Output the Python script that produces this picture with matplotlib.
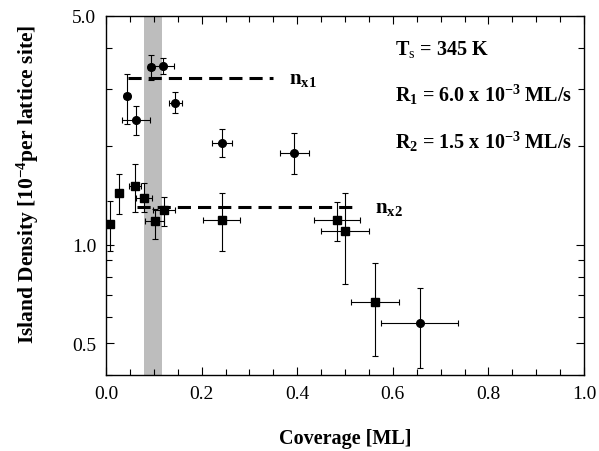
import numpy as np
import matplotlib
matplotlib.use("Agg")
import matplotlib.pyplot as plt
from matplotlib.ticker import FixedLocator, NullFormatter

# ─── data ────────────────────────────────────────────────────────────────────
# circles (R1)
circ_x    = [0.044, 0.063, 0.094, 0.119, 0.145, 0.243, 0.394, 0.656]
circ_y    = [2.85, 2.40, 3.48, 3.52, 2.72, 2.05, 1.91, 0.578]
circ_ylo  = [2.34, 2.16, 3.19, 3.33, 2.53, 1.85, 1.64, 0.419]
circ_yhi  = [3.33, 2.65, 3.79, 3.72, 2.93, 2.25, 2.19, 0.738]
circ_xerr = [0.006, 0.030, 0.006, 0.023, 0.014, 0.021, 0.031, 0.080]

# squares (R2)
sq_x    = [0.008, 0.028, 0.061, 0.080, 0.102, 0.121, 0.242, 0.483, 0.500, 0.563]
sq_y    = [1.16, 1.44, 1.51, 1.39, 1.18, 1.28, 1.19, 1.19, 1.10, 0.667]
sq_ylo  = [0.96, 1.24, 1.26, 1.26, 1.04, 1.14, 0.96, 1.03, 0.76, 0.458]
sq_yhi  = [1.36, 1.64, 1.76, 1.54, 1.29, 1.40, 1.44, 1.35, 1.44, 0.878]
sq_xerr = [0.004, 0.004, 0.012, 0.017, 0.020, 0.023, 0.039, 0.048, 0.051, 0.050]

# saturation densities (dashed lines)
nx1, nx1_span = 3.24, (0.047, 0.35)
nx2, nx2_span = 1.30, (0.064, 0.52)

# shaded coverage band
band = (0.080, 0.118)

yticks      = [0.5, 1.0, 5.0]
ytick_lbls  = ["0.5", "1.0", "5.0"]
yminor      = [0.4, 0.6, 0.7, 0.8, 0.9, 2.0, 3.0, 4.0]
xticks      = [0.0, 0.2, 0.4, 0.6, 0.8, 1.0]
xtick_lbls  = ["0.0", "0.2", "0.4", "0.6", "0.8", "1.0"]

# ─── style ───────────────────────────────────────────────────────────────────
plt.rcParams["font.family"] = ["Liberation Serif", "DejaVu Serif"]
plt.rcParams["mathtext.fontset"] = "custom"
plt.rcParams["mathtext.rm"] = "Liberation Serif"
plt.rcParams["mathtext.bf"] = "Liberation Serif:bold"
plt.rcParams["mathtext.default"] = "bf"

fig = plt.figure(figsize=(5.99, 4.52), dpi=100)
ax = fig.add_axes([0.177, 0.168, 0.798, 0.7945])

ax.axvspan(band[0], band[1], color="#bdbdbd", lw=0, zorder=0)

eb_kw = dict(fmt="none", ecolor="black", elinewidth=0.8, capsize=2.3,
             capthick=0.8, zorder=2)
c_yerr = [np.subtract(circ_y, circ_ylo), np.subtract(circ_yhi, circ_y)]
s_yerr = [np.subtract(sq_y, sq_ylo), np.subtract(sq_yhi, sq_y)]
ax.errorbar(circ_x, circ_y, xerr=circ_xerr, yerr=c_yerr, **eb_kw)
ax.errorbar(sq_x, sq_y, xerr=sq_xerr, yerr=s_yerr, **eb_kw)
ax.plot(circ_x, circ_y, "o", color="black", ms=5.5, zorder=3)
ax.plot(sq_x, sq_y, "s", color="black", ms=6.2, zorder=3)

ax.plot(nx1_span, [nx1, nx1], color="black", lw=2.2, dashes=(4.3, 2.3), zorder=4)
ax.plot(nx2_span, [nx2, nx2], color="black", lw=2.2, dashes=(4.3, 2.3), zorder=4)
ax.text(0.383, nx1, r"n$_{x1}$", fontsize=15, fontweight="bold", va="center")
ax.text(0.563, nx2, r"n$_{x2}$", fontsize=15, fontweight="bold", va="center")

tx = 0.605
ax.text(tx, 0.894, r"T$_\mathrm{s}$ = 345 K", transform=ax.transAxes,
        fontsize=14.5, fontweight="bold", va="baseline")
ax.text(tx, 0.764, r"R$_1$ = 6.0 x 10$^{-3}$ ML/s", transform=ax.transAxes,
        fontsize=14.5, fontweight="bold", va="baseline")
ax.text(tx, 0.634, r"R$_2$ = 1.5 x 10$^{-3}$ ML/s", transform=ax.transAxes,
        fontsize=14.5, fontweight="bold", va="baseline")

# ─── axes ────────────────────────────────────────────────────────────────────
ax.set_yscale("log")
ax.set_xlim(0, 1.0)
ax.set_ylim(0.4, 5.0)
ax.set_yticks(yticks)
ax.set_yticklabels(ytick_lbls)
ax.yaxis.set_minor_locator(FixedLocator(yminor))
ax.yaxis.set_minor_formatter(NullFormatter())
ax.set_xticks(xticks)
ax.set_xticklabels(xtick_lbls)
ax.xaxis.set_minor_locator(FixedLocator(np.arange(0, 1.0001, 0.05)))

ax.tick_params(which="both", direction="in", top=True, right=True,
               labelsize=14, width=0.8, pad=7)
ax.tick_params(which="major", length=6)
ax.tick_params(which="minor", length=4)
for s in ax.spines.values():
    s.set_linewidth(1.0)

ax.set_xlabel("Coverage [ML]", fontsize=14.5, fontweight="bold", labelpad=19)
ax.set_ylabel(r"Island Density [10$^{-4}$per lattice site]", fontsize=15.5,
              fontweight="bold")
ax.yaxis.set_label_coords(-0.135, 0.535)

fig.savefig("out.png", dpi=100)
